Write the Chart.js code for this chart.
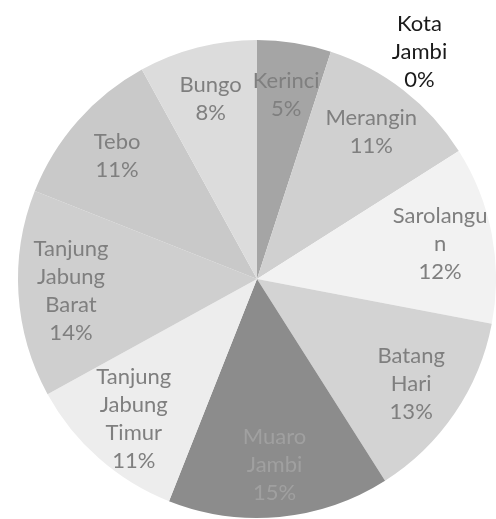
<!DOCTYPE html>
<html>
<head>
<meta charset="utf-8">
<script src="https://cdn.jsdelivr.net/npm/chart.js@4/dist/chart.umd.min.js"></script>
<style>
  html, body { margin: 0; padding: 0; background: #fff; }
  canvas { display: block; }
</style>
</head>
<body>
<canvas id="graph" width="496" height="519"></canvas>
<script>
// kabupaten / kota, urutan searah jarum jam mulai dari atas
var regions = ["Kerinci", "Merangin", "Sarolangun", "Batang Hari", "Muaro Jambi",
    "Tanjung Jabung Timur", "Tanjung Jabung Barat", "Tebo", "Bungo", "Kota Jambi"];
// teks label seperti terlihat (sudah terbungkus per baris)
var labelLines = [["Kerinci"], ["Merangin"], ["Sarolangu", "n"], ["Batang", "Hari"], ["Muaro", "Jambi"],
    ["Tanjung", "Jabung", "Timur"], ["Tanjung", "Jabung", "Barat"], ["Tebo"], ["Bungo"], ["Kota", "Jambi"]];
var shares = [5, 11, 12, 13, 15, 11, 14, 11, 8, 0];
var sliceColors = ["#a5a5a5", "#d0d0d0", "#f2f2f2", "#d3d3d3", "#8c8c8c",
    "#ededed", "#cfcfcf", "#c9c9c9", "#dcdcdc", "#bfbfbf"];

// plugin sederhana untuk label data (nama + persen)
var pieLabels = {
    id: "pieLabels",
    afterDatasetsDraw: function (chart, args, opts) {
        var ctx = chart.ctx;
        var meta = chart.getDatasetMeta(0);
        var data = chart.data.datasets[0].data;
        ctx.save();
        ctx.font = opts.font;
        ctx.textAlign = "center";
        ctx.textBaseline = "middle";
        meta.data.forEach(function (arc, i) {
            var p = arc.getProps(["x", "y", "startAngle", "endAngle", "outerRadius"], true);
            var lines = labelLines[i].concat([data[i] + "%"]);
            var mid = (p.startAngle + p.endAngle) / 2;
            var r = p.outerRadius * opts.radius;
            var color = opts.color;
            if (data[i] === 0) {
                // irisan kosong: label di luar lingkaran
                mid = -Math.PI / 2 + opts.outsideAngle;
                r = p.outerRadius * opts.outsideRadius;
                color = opts.outsideColor;
            } else if (i === 4) {
                color = opts.darkColor;
            }
            var cx = p.x + Math.cos(mid) * r;
            var cy = p.y + Math.sin(mid) * r;
            var top = cy - (lines.length - 1) * opts.lineHeight / 2;
            ctx.fillStyle = color;
            lines.forEach(function (t, k) {
                ctx.fillText(t, cx, top + k * opts.lineHeight);
            });
        });
        ctx.restore();
    }
};

var ctx = document.getElementById("graph").getContext("2d");
var pieChart = new Chart(ctx, {
    type: "pie",
    data: {
        labels: regions,
        datasets: [{
            data: shares,
            backgroundColor: sliceColors,
            borderWidth: 0,
            hoverOffset: 0
        }]
    },
    options: {
        responsive: false,
        animation: false,
        layout: { padding: { left: 18, right: 0, top: 40, bottom: 1 } },
        plugins: {
            legend: { display: false },
            tooltip: { enabled: false },
            pieLabels: {
                font: "22px Lato",
                lineHeight: 28,
                radius: 0.78,
                color: "#7f7f7f",
                darkColor: "#a0a0a0",
                outsideColor: "#1a1a1a",
                outsideAngle: 0.62,
                outsideRadius: 1.17
            }
        }
    },
    plugins: [pieLabels]
});
</script>
</body>
</html>
